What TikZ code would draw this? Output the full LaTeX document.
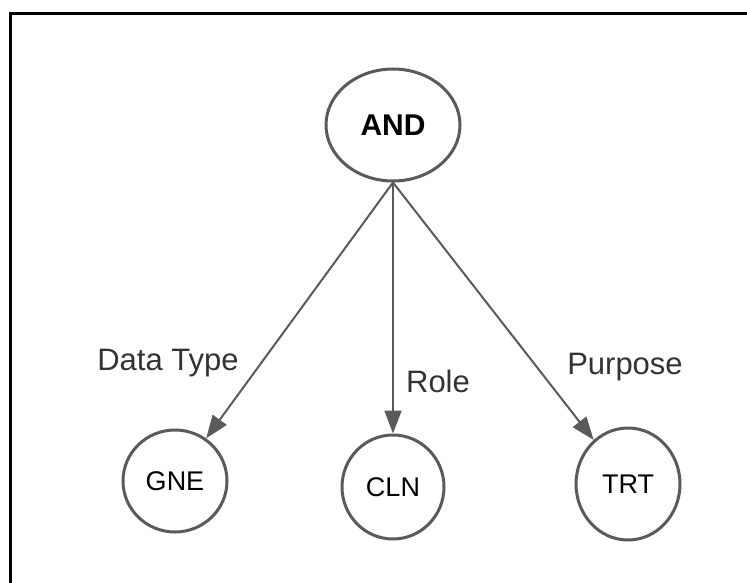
\documentclass[tikz,border=0pt]{standalone}
\usepackage{fontspec}
\setmainfont{Liberation Sans}
\usetikzlibrary{arrows.meta, shapes.geometric}
\definecolor{linegray}{HTML}{5A5A5A}
\definecolor{textgray}{HTML}{333333}

\begin{document}
\begin{tikzpicture}[x=1pt, y=-1pt,
    bubble/.style={draw=linegray, line width=3pt, ellipse, inner sep=0pt,
        text=black, font=\fontsize{27}{30}\selectfont},
    link/.style={draw=linegray, line width=2pt,
        -{Triangle[length=23pt, width=17pt]}},
    tag/.style={text=textgray, font=\fontsize{31}{34}\selectfont}]
\useasboundingbox (0,0) rectangle (747,583);

% Frame
\draw[line width=3pt] (10,14) rectangle (800,650);

% Root
\node[bubble, minimum width=134pt, minimum height=112pt,
    font=\fontsize{30}{33}\selectfont\bfseries] (AND) at (393,125) {AND};

% Leaves
\node[bubble, minimum width=104pt, minimum height=102pt] (GNE) at (175,481) {GNE};
\node[bubble, minimum width=102pt, minimum height=104pt] (CLN) at (393,487) {CLN};
\node[bubble, minimum width=104pt, minimum height=112pt] (TRT) at (628,484) {TRT};

% Edges
\draw[link] (AND.south) -- (GNE);
\draw[link] (AND.south) -- (CLN.north);
\draw[link] (AND.south) -- (TRT);

% Edge labels
\node[tag] (datatype) at (168,363) {Data Type};
\node[tag] (role) at (438,381) {Role};
\node[tag] (purpose) at (625,367) {Purpose};
\end{tikzpicture}
\end{document}
